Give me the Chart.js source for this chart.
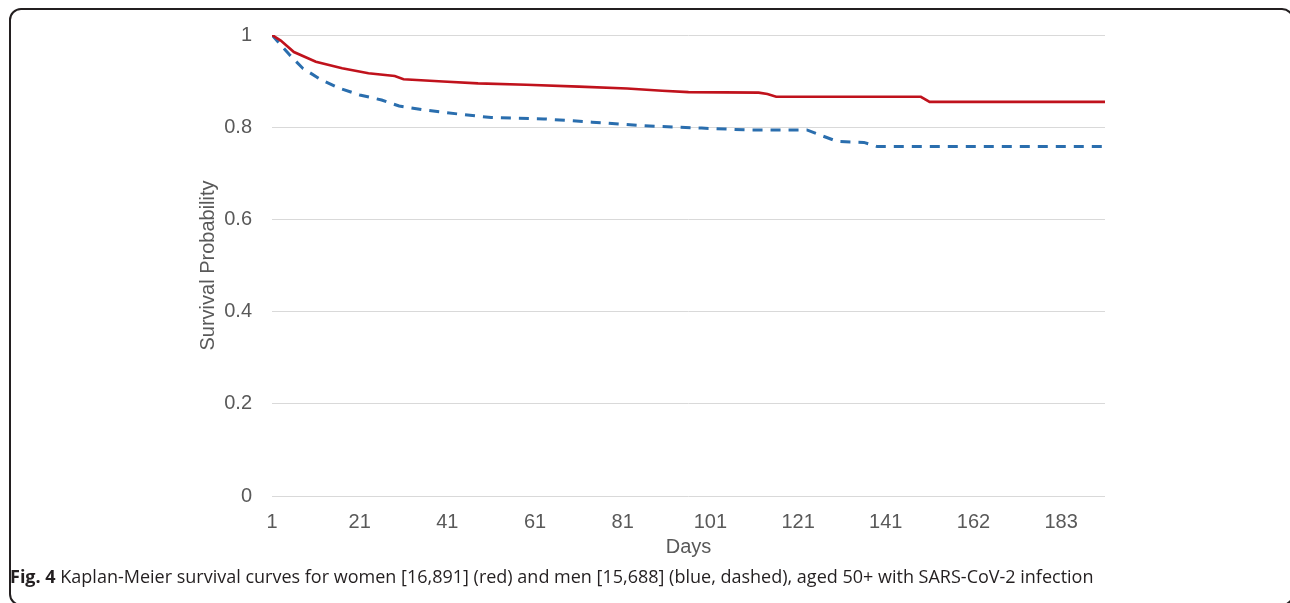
<!DOCTYPE html>
<html>
<head>
<meta charset="utf-8">
<script src="https://cdn.jsdelivr.net/npm/chart.js@4.4.1/dist/chart.umd.min.js"></script>
<style>
  html, body { margin: 0; padding: 0; background: #fff; }
  body { width: 1290px; height: 603px; position: relative; overflow: hidden; }
  #frame { position: absolute; left: 9px; top: 8px; width: 1285px; height: 598px; border: 2px solid #231f20; border-radius: 12px; box-sizing: border-box; }
  #wrap { position: absolute; left: 0; top: 0; width: 1290px; height: 603px; }
  #caption { position: absolute; left: 10px; top: 564px; font-family: "Open Sans", "Noto Sans", sans-serif; font-size: 18px; color: #231f20; white-space: nowrap; }
  #caption b { font-weight: 700; }
</style>
</head>
<body>
<div id="frame"></div>
<div id="wrap"><canvas id="c" width="1290" height="603"></canvas></div>
<div id="caption"><b>Fig. 4</b> Kaplan-Meier survival curves for women [16,891] (red) and men [15,688] (blue, dashed), aged 50+ with SARS-CoV-2 infection</div>
<script>
// Category positions along the Days axis (index of day in the Excel category axis)
const dayTickLabels = ['1', '21', '41', '61', '81', '101', '121', '141', '162', '183'];
const dayTickPos    = [0, 20, 40, 60, 80, 100, 120, 140, 160, 180];
const axisLastPos   = 190;

// Women (red)
const womenPos  = [0, 2, 5, 10, 16, 22, 28, 30, 39, 47, 58, 70, 81, 89, 95, 111, 113, 115, 148, 150, 190];
const womenSurv = [1.0, 0.988, 0.963, 0.942, 0.928, 0.917, 0.911, 0.904, 0.899, 0.895, 0.892, 0.888, 0.884, 0.879, 0.876, 0.875, 0.872, 0.866, 0.866, 0.855, 0.855];

// Men (blue, dashed)
const menPos  = [0, 4, 7, 11, 15.5, 20, 25, 29, 35, 43, 50, 62, 73, 85, 98, 109, 122, 125, 129, 135, 138, 190];
const menSurv = [1.0, 0.957, 0.928, 0.904, 0.884, 0.870, 0.859, 0.846, 0.837, 0.828, 0.821, 0.818, 0.811, 0.803, 0.798, 0.794, 0.794, 0.783, 0.769, 0.767, 0.758, 0.758];

const yTicks = [0, 0.2, 0.4, 0.6, 0.8, 1];

const toPts = (xs, ys) => xs.map((x, i) => ({ x: x, y: ys[i] }));

const FONT = '"Liberation Sans", Arial, sans-serif';
const GREY = '#595959';

new Chart(document.getElementById('c'), {
  type: 'line',
  data: {
    datasets: [
      {
        label: 'Women',
        data: toPts(womenPos, womenSurv),
        borderColor: '#C0121C',
        borderWidth: 2.6,
        pointRadius: 0,
        tension: 0,
        fill: false
      },
      {
        label: 'Men',
        data: toPts(menPos, menSurv),
        borderColor: '#2A6EAE',
        borderWidth: 3,
        borderDash: [10, 8],
        pointRadius: 0,
        tension: 0,
        fill: false
      }
    ]
  },
  options: {
    responsive: false,
    animation: false,
    events: [],
    layout: { padding: { left: 190, right: 185, top: 35, bottom: 44 } },
    plugins: { legend: { display: false }, tooltip: { enabled: false } },
    scales: {
      x: {
        type: 'linear',
        min: 0,
        max: axisLastPos,
        afterBuildTicks: (s) => { s.ticks = dayTickPos.map(v => ({ value: v })); },
        afterFit: (s) => { s.height = 63; },
        grid: { display: false, drawTicks: false },
        border: { display: false },
        ticks: {
          autoSkip: false,
          maxRotation: 0,
          padding: 14,
          color: GREY,
          font: { family: FONT, size: 20 },
          callback: (v) => { const i = dayTickPos.indexOf(v); return i >= 0 ? dayTickLabels[i] : ''; }
        },
        title: {
          display: true,
          text: 'Days',
          color: GREY,
          font: { family: FONT, size: 20 },
          padding: { top: 0, bottom: 0 }
        }
      },
      y: {
        min: 0,
        max: 1,
        afterBuildTicks: (s) => { s.ticks = yTicks.map(v => ({ value: v })); },
        afterFit: (s) => { s.width = 82; },
        grid: { color: '#d9d9d9', lineWidth: 1, drawTicks: false },
        border: { display: false },
        ticks: {
          padding: 20,
          color: GREY,
          font: { family: FONT, size: 20 },
          callback: (v) => String(Math.round(v * 10) / 10)
        },
        title: {
          display: true,
          text: 'Survival Probability',
          color: GREY,
          font: { family: FONT, size: 20 },
          padding: { top: 6, bottom: 0 }
        }
      }
    }
  }
});
</script>
</body>
</html>
